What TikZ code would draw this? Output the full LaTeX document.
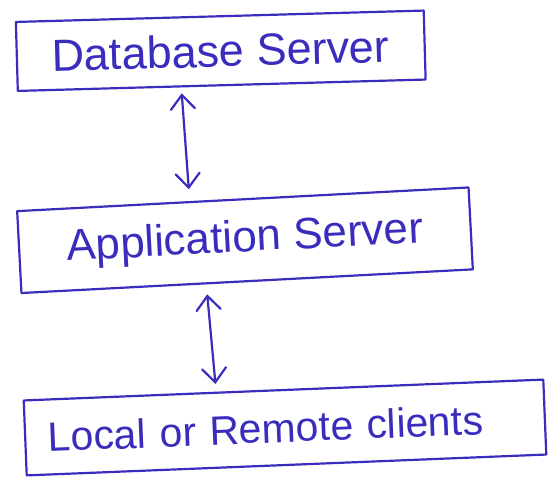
\documentclass[tikz,border=0pt]{standalone}
\usepackage{fontspec}
\setmainfont{Liberation Sans}
\usetikzlibrary{arrows.meta}
\definecolor{ink}{RGB}{58,45,190}
\begin{document}
\begin{tikzpicture}[x=1pt,y=-1pt,
  frame/.style={draw=ink, line width=2.2pt, text=ink, inner sep=0pt, line join=round},
  barb/.tip={Straight Barb[length=14pt,width=24pt,line cap=round]},
  link/.style={draw=ink, line width=2.2pt, line cap=round, barb-barb}]
\useasboundingbox (0,0) rectangle (555,479);

% three tiers, each a slightly tilted hand-drawn frame
\node[frame, rotate=1.6, minimum width=408pt, minimum height=69pt,
      font=\fontsize{45}{50}\selectfont] (db) at (220.75,50.75) {Database Server};
\node[frame, rotate=3, minimum width=452pt, minimum height=82pt,
      font=\fontsize{44}{50}\selectfont] (app) at (245,240.25) {Application Server};
\node[frame, rotate=2.3, minimum width=520pt, minimum height=75pt,
      inner xsep=23pt, text width=474pt, align=left,
      font=\fontsize{41}{48}\selectfont] (cli) at (285,427.5) {Local or Remote clients};

% two-way links between the tiers
\draw[link] ([shift={(-40,7)}]db.south) -- ([shift={(-54,-9)}]app.north);
\draw[link] ([shift={(-40,12)}]app.south) -- ([shift={(-68,-5)}]cli.north);
\end{tikzpicture}
\end{document}
